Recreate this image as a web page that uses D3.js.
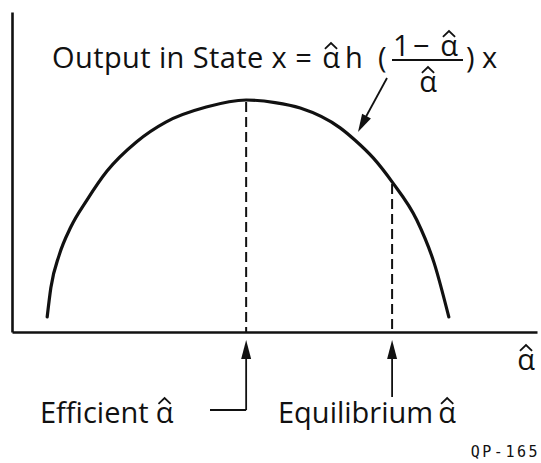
<!DOCTYPE html>
<html>
<head>
<meta charset="utf-8">
<script src="https://cdn.jsdelivr.net/npm/d3@7"></script>
<style>
  body { margin: 0; background: #fff; }
  text { font-family: "Open Sans", sans-serif; fill: #111; }
</style>
</head>
<body>
<svg id="chart"></svg>
<script>
// curve points (alpha-hat vs output, arbitrary units)
const alphaValues  = [0.067, 0.074, 0.090, 0.112, 0.143, 0.181, 0.237, 0.293, 0.370, 0.446,
                      0.501, 0.549, 0.625, 0.653, 0.688, 0.724, 0.771, 0.804, 0.832];
const outputValues = [0.047, 0.138, 0.241, 0.328, 0.413, 0.503, 0.594, 0.656, 0.703, 0.725,
                      0.717, 0.700, 0.638, 0.600, 0.544, 0.469, 0.350, 0.216, 0.047];

// marked alpha-hat positions
const markerNames  = ['Efficient', 'Equilibrium'];
const markerAlphas = [0.446, 0.724];

const width = 541, height = 463;

const svg = d3.select('#chart')
    .attr('width', width)
    .attr('height', height);

// Set up scales (plot area from the axes corner to the top/right)
const x = d3.scaleLinear().domain([0, 1]).range([12, 537]);
const y = d3.scaleLinear().domain([0, 1]).range([332, 12]);

const points = alphaValues.map((a, i) => ({ a: a, v: outputValues[i] }));

// Axes without ticks, only the lines
svg.append('g')
    .attr('transform', 'translate(0,' + y(0) + ')')
    .call(d3.axisBottom(x).tickValues([]).tickSizeOuter(0))
    .select('.domain').attr('stroke', '#111').attr('stroke-width', 2.6);

svg.append('g')
    .attr('transform', 'translate(' + x(0) + ',0)')
    .call(d3.axisLeft(y).tickValues([]).tickSizeOuter(0))
    .select('.domain').attr('stroke', '#111').attr('stroke-width', 2.6);

// helper: alpha with a hat above it
function alphaHat(g, cx, baseline, size) {
  g.append('text')
      .attr('x', cx).attr('y', baseline)
      .attr('text-anchor', 'middle')
      .style('font-size', size + 'px')
      .text('α');
  const w = size * 0.42, top = baseline - size * 0.86, h = size * 0.2;
  g.append('path')
      .attr('d', `M${cx - w / 2},${top + h} L${cx},${top} L${cx + w / 2},${top + h}`)
      .attr('fill', 'none')
      .attr('stroke', '#111')
      .attr('stroke-width', 1.8);
}

// arrowhead triangle pointing from (x1,y1) towards (x2,y2)
function arrowHead(g, x1, y1, x2, y2, len, half) {
  const ang = Math.atan2(y2 - y1, x2 - x1);
  const bx = x2 - len * Math.cos(ang), by = y2 - len * Math.sin(ang);
  const px = -Math.sin(ang) * half, py = Math.cos(ang) * half;
  g.append('path')
      .attr('d', `M${x2},${y2} L${bx + px},${by + py} L${bx - px},${by - py} Z`)
      .attr('fill', '#111');
}

// output at a marker, taken from the listed points
const curveY = a => outputValues[alphaValues.indexOf(a)];

// Dashed lines from curve down to axis
svg.selectAll('.drop')
    .data(markerAlphas)
  .enter().append('line')
    .attr('class', 'drop')
    .attr('x1', d => x(d)).attr('x2', d => x(d))
    .attr('y1', d => y(curveY(d)) + 2)
    .attr('y2', y(0))
    .attr('stroke', '#111')
    .attr('stroke-width', 2)
    .attr('stroke-dasharray', '10,5');

// The curve
svg.append('path')
    .datum(points)
    .attr('fill', 'none')
    .attr('stroke', '#111')
    .attr('stroke-width', 3.2)
    .attr('stroke-linecap', 'round')
    .attr('d', d3.line().x(d => x(d.a)).y(d => y(d.v)).curve(d3.curveMonotoneX));

// Title label with fraction
const t = svg.append('g');
t.append('text')
    .attr('x', 52).attr('y', 68)
    .style('font-size', '29px')
    .style('letter-spacing', '0.4px')
    .text('Output in State x =');
alphaHat(t, 331, 68, 29);
t.append('text').attr('x', 345).attr('y', 68).style('font-size', '29px').text('h');
t.append('text').attr('x', 378).attr('y', 68).style('font-size', '29px').text('(');
t.append('text').attr('x', 393).attr('y', 56).style('font-size', '29px').text('1');
t.append('text').attr('x', 413).attr('y', 56).style('font-size', '29px').text('−');
alphaHat(t, 449, 56, 29);
t.append('line')
    .attr('x1', 392).attr('x2', 463).attr('y1', 60).attr('y2', 60)
    .attr('stroke', '#111').attr('stroke-width', 2);
alphaHat(t, 428, 92, 29);
t.append('text').attr('x', 466).attr('y', 68).style('font-size', '29px').text(')');
t.append('text').attr('x', 482).attr('y', 68).style('font-size', '29px').text('x');

// pointer from title to curve
t.append('line')
    .attr('x1', 387).attr('y1', 78).attr('x2', 362).attr('y2', 124)
    .attr('stroke', '#111').attr('stroke-width', 1.8);
arrowHead(t, 387, 78, 358, 132, 18, 5);

// axis label
alphaHat(svg, 526, 370, 29);

// Marker labels and arrows under the axis
const lab = svg.append('g');

// Efficient
const effX = x(markerAlphas[0]);
lab.append('line')
    .attr('x1', effX).attr('x2', effX).attr('y1', 352).attr('y2', 410)
    .attr('stroke', '#111').attr('stroke-width', 1.8);
lab.append('line')
    .attr('x1', effX).attr('x2', 210).attr('y1', 410).attr('y2', 410)
    .attr('stroke', '#111').attr('stroke-width', 1.8);
arrowHead(lab, effX, 380, effX, 340, 19, 5);
const effText = lab.append('text')
    .attr('x', 40).attr('y', 423)
    .style('font-size', '29px')
    .text(markerNames[0]);
alphaHat(lab, 40 + effText.node().getComputedTextLength() + 16, 423, 29);

// Equilibrium
const eqX = x(markerAlphas[1]);
lab.append('line')
    .attr('x1', eqX).attr('x2', eqX).attr('y1', 352).attr('y2', 397)
    .attr('stroke', '#111').attr('stroke-width', 1.8);
arrowHead(lab, eqX, 380, eqX, 340, 19, 5);
const eqText = lab.append('text')
    .attr('x', 278).attr('y', 423)
    .style('font-size', '29px')
    .text(markerNames[1]);
alphaHat(lab, 278 + eqText.node().getComputedTextLength() + 14, 423, 29);

// figure code
svg.append('text')
    .attr('x', 540).attr('y', 457)
    .attr('text-anchor', 'end')
    .style('font-family', '"DejaVu Sans Mono", monospace')
    .style('font-size', '15px')
    .style('letter-spacing', '2.5px')
    .text('QP-165');
</script>
</body>
</html>
